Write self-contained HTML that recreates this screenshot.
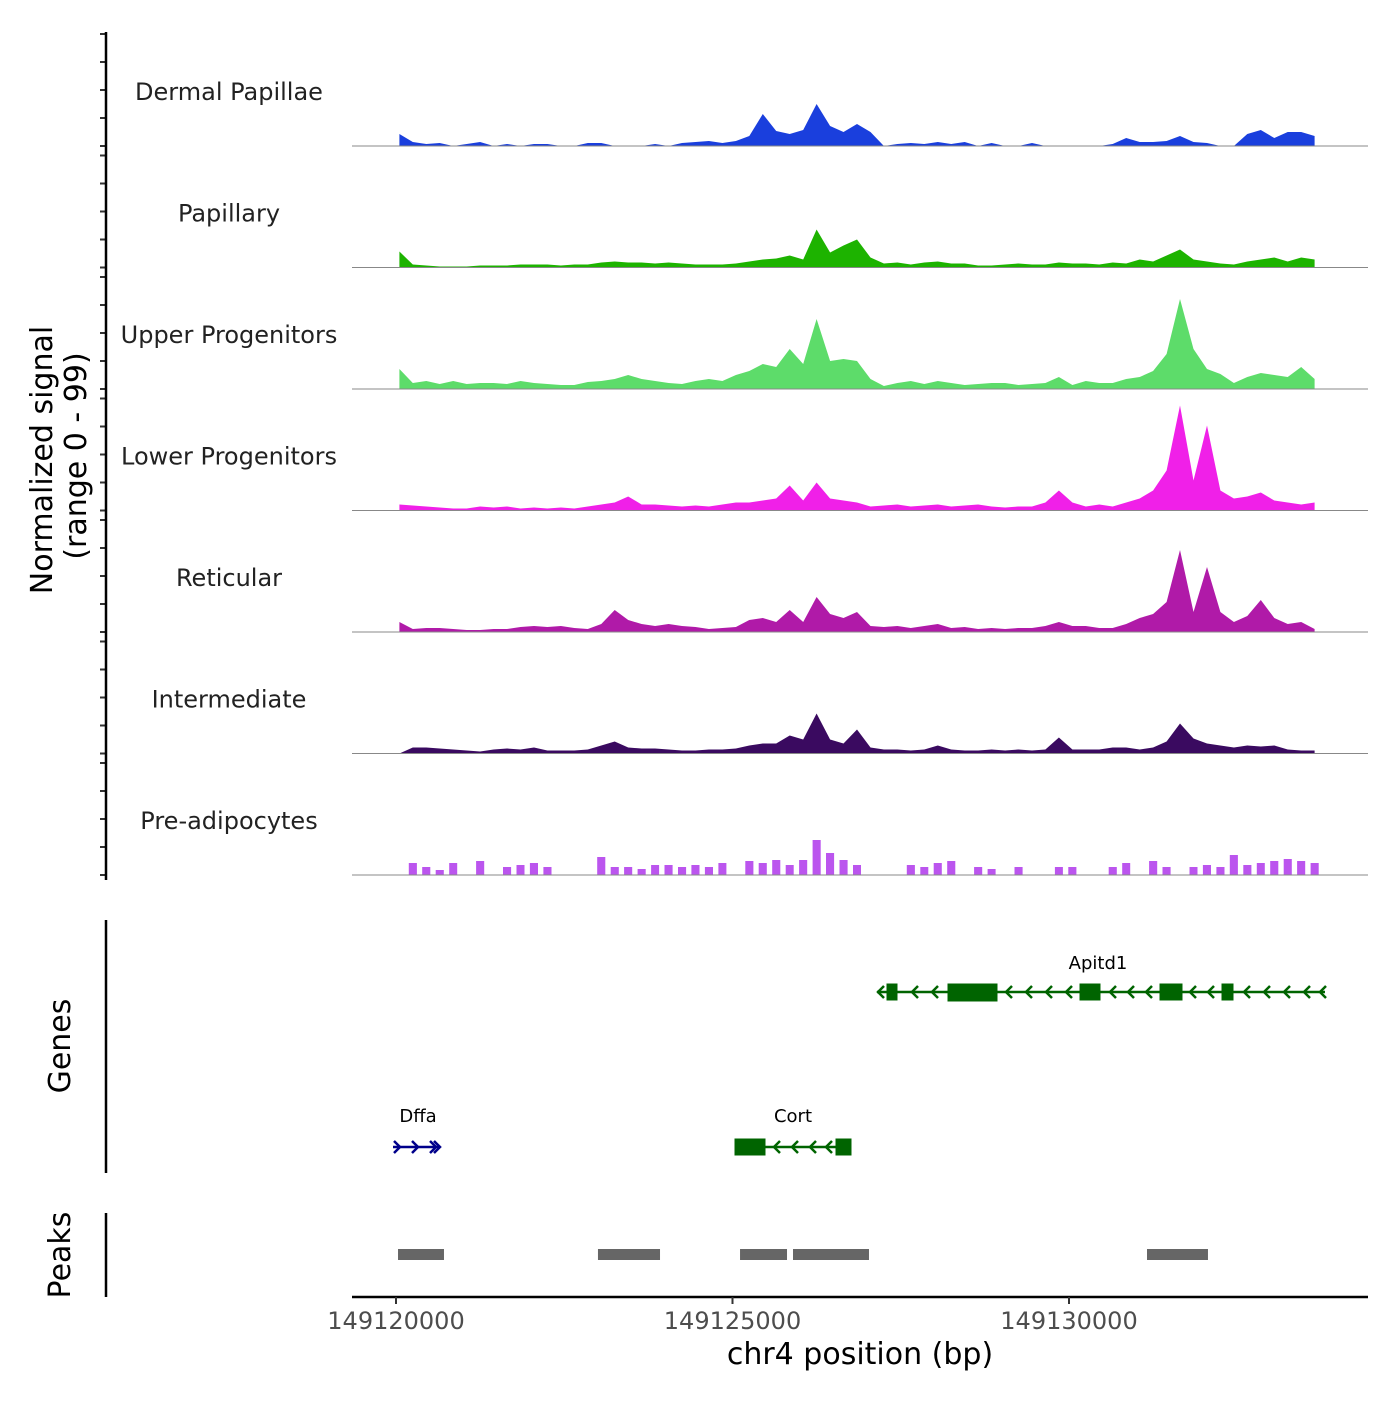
<!DOCTYPE html>
<html><head><meta charset="utf-8"><style>
body{margin:0;background:#fff}
svg text{font-family:"DejaVu Sans","Liberation Sans",sans-serif}
</style></head><body>
<svg id="chart" width="1400" height="1400" viewBox="0 0 1400 1400" xmlns="http://www.w3.org/2000/svg">
<g id="tracks"></g>
<g id="axes"></g>
</svg>
<script>
const trackNames = ["Dermal Papillae","Papillary","Upper Progenitors","Lower Progenitors","Reticular","Intermediate","Pre-adipocytes"];
const trackColors = ["#1a3fdd","#1db300","#5ddc6a","#f020e8","#b01aa8","#3a0a60","#bb55ee"];
const binStart = 149120050;
const binSize = 200;
const sigDermal = [12,4,2,3,0,2,4,0,2,0,2,2,0,0,3,3,0,0,0,2,0,3,4,5,3,5,10,32,15,12,16,42,20,14,22,14,0,2,3,2,4,2,4,0,3,0,0,3,0,0,0,0,0,2,8,4,4,5,10,4,3,0,0,12,16,8,14,14,10];
const sigPapillary = [16,3,2,1,1,1,2,2,2,3,3,3,2,3,3,5,6,5,5,4,5,4,3,3,3,4,6,8,9,12,8,38,15,22,28,10,4,5,3,5,6,4,4,2,2,3,4,3,3,5,4,4,3,5,4,8,6,12,18,8,6,4,3,6,8,10,6,10,8];
const sigUpper = [20,6,8,5,8,5,6,6,5,8,6,5,4,4,7,8,10,14,10,8,6,5,8,10,8,14,18,25,22,40,25,70,28,30,28,10,3,6,8,5,8,6,4,5,6,6,4,5,6,12,4,8,6,6,10,12,18,35,90,40,20,15,6,12,16,14,12,22,10];
const sigLower = [6,5,4,3,2,2,4,3,4,2,3,2,3,2,4,6,8,14,6,6,5,4,5,4,6,8,8,10,12,25,10,28,12,10,8,4,5,6,4,5,6,4,5,6,4,3,4,4,8,20,8,4,6,4,8,12,20,40,105,30,85,20,12,14,18,10,8,6,8];
const sigReticular = [10,3,4,4,3,2,2,3,3,5,6,5,6,4,3,8,22,12,8,6,8,6,5,3,4,5,12,14,10,22,10,35,18,14,20,6,5,6,4,6,8,4,5,3,4,3,4,4,6,10,6,6,4,4,8,14,18,30,82,20,65,20,10,16,32,14,8,10,3];
const sigIntermediate = [0,6,6,5,4,3,2,4,5,4,6,3,3,3,4,8,12,6,5,5,4,3,3,4,4,5,8,10,10,18,14,40,14,10,24,6,4,4,3,4,8,4,3,3,4,3,4,3,4,16,4,4,4,6,6,4,6,12,30,15,10,8,6,8,7,8,4,3,3];
const sigPreadipo = [0,12,8,5,12,0,14,0,8,10,12,8,0,0,0,18,8,8,6,10,10,8,10,8,12,0,14,12,15,10,15,35,22,15,10,0,0,0,10,8,12,14,0,8,6,0,8,0,0,8,8,0,0,8,12,0,14,8,0,8,10,8,20,10,12,14,16,14,12];
const signals = [sigDermal,sigPapillary,sigUpper,sigLower,sigReticular,sigIntermediate,sigPreadipo];
const peakStarts = [149120030,149123001,149125112,149125899,149131159];
const peakEnds = [149120713,149123923,149125810,149127028,149132065];
const xTicks = [149120000,149125000,149130000];

const NS="http://www.w3.org/2000/svg";
const X0=396, PXBP=336.5/5000;
function xs(bp){return X0+(bp-149120000)*PXBP;}
const bases=[146,267.5,389,510.5,632,753.5,875];
function ys(v,b){return b-v*1.0;}
function mk(tag,attrs,parent){const e=document.createElementNS(NS,tag);for(const k in attrs)e.setAttribute(k,attrs[k]);parent.appendChild(e);return e;}
const tg=document.getElementById('tracks'), ag=document.getElementById('axes');

signals.forEach((sig,t)=>{
  const b=bases[t];
  const step = (t===6);
  let d='M'+xs(binStart).toFixed(1)+','+b;
  sig.forEach((v,i)=>{
    if(step){
      const xa=xs(binStart+i*binSize-binSize*0.3), xb=xs(binStart+i*binSize+binSize*0.3);
      d+=' L'+xa.toFixed(1)+','+b+' L'+xa.toFixed(1)+','+ys(v,b).toFixed(1)+' L'+xb.toFixed(1)+','+ys(v,b).toFixed(1)+' L'+xb.toFixed(1)+','+b;
    } else {
      d+=' L'+xs(binStart+i*binSize).toFixed(1)+','+ys(v,b).toFixed(1);
    }
  });
  d+=' L'+xs(binStart+(sig.length-1)*binSize).toFixed(1)+','+b+' Z';
  const p=mk('path',{d:d,fill:trackColors[t]},tg);
  
  
  const l=mk('line',{x1:352,x2:1368,y1:b,y2:b,stroke:'#888','stroke-width':1},tg);
  
  
  const lab=mk('text',{x:229,y:b-46,'text-anchor':'middle','font-size':24,fill:'#222'},tg);
  lab.textContent=trackNames[t];
  
  
  for(let k=0;k<5;k++){
    const tk=mk('line',{x1:100,x2:106,y1:b-28*k,y2:b-28*k,stroke:'#333','stroke-width':2},ag);
    
    
  }
});
[[32,880],[920,1173],[1213,1297]].forEach(r=>{
  const l=mk('line',{x1:106,x2:106,y1:r[0],y2:r[1],stroke:'#000','stroke-width':2.5},ag);
  
  
});
peakStarts.forEach((s,i)=>{
  const r=mk('rect',{x:xs(s),y:1249,width:xs(peakEnds[i])-xs(s),height:11,fill:'#666'},tg);
  
  
});
const xl=mk('line',{x1:352,x2:1368,y1:1297,y2:1297,stroke:'#000','stroke-width':2.5},ag);


xTicks.forEach(v=>{
  const t=mk('line',{x1:xs(v),x2:xs(v),y1:1297,y2:1304,stroke:'#333','stroke-width':2},ag);
  
  
  const tx=mk('text',{x:xs(v),y:1329,'text-anchor':'middle','font-size':24,fill:'#4d4d4d'},ag);
  tx.textContent=v;
  
  
});
</script>
<svg style="position:absolute;left:0;top:0" width="1400" height="1400">
<text x="860" y="1364" text-anchor="middle" font-size="30" font-family="DejaVu Sans, Liberation Sans, sans-serif">chr4 position (bp)</text>
<text transform="translate(52,460) rotate(-90)" text-anchor="middle" font-size="30" font-family="DejaVu Sans, Liberation Sans, sans-serif">Normalized signal</text>
<text transform="translate(86,456) rotate(-90)" text-anchor="middle" font-size="30" font-family="DejaVu Sans, Liberation Sans, sans-serif">(range 0 - 99)</text>
<text transform="translate(70,1046) rotate(-90)" text-anchor="middle" font-size="30" font-family="DejaVu Sans, Liberation Sans, sans-serif">Genes</text>
<text transform="translate(70,1255) rotate(-90)" text-anchor="middle" font-size="30" font-family="DejaVu Sans, Liberation Sans, sans-serif">Peaks</text>
<g fill="#006400" stroke="#006400">
<line x1="877" x2="1325" y1="992" y2="992" stroke-width="2.5"/>
<rect x="887" y="984" width="10" height="16"/><rect x="948" y="984" width="49" height="17"/><rect x="1080" y="984" width="20" height="16"/><rect x="1160" y="984" width="22" height="16"/><rect x="1222" y="984" width="11" height="16"/>
<path fill="none" stroke-width="2.5" d="M884,986 l-6,6 6,6 M918,986 l-6,6 6,6 M938,986 l-6,6 6,6 M1012,986 l-6,6 6,6 M1032,986 l-6,6 6,6 M1052,986 l-6,6 6,6 M1072,986 l-6,6 6,6 M1116,986 l-6,6 6,6 M1134,986 l-6,6 6,6 M1152,986 l-6,6 6,6 M1196,986 l-6,6 6,6 M1214,986 l-6,6 6,6 M1250,986 l-6,6 6,6 M1270,986 l-6,6 6,6 M1290,986 l-6,6 6,6 M1310,986 l-6,6 6,6 M1326,986 l-6,6 6,6"/>
<text stroke="none" fill="#000" x="1098" y="969" text-anchor="middle" font-size="18" font-family="DejaVu Sans, sans-serif">Apitd1</text>
</g>
<g stroke="#00008b">
<line x1="393" x2="440" y1="1147" y2="1147" stroke-width="2.5"/>
<path fill="none" stroke-width="2.5" d="M394,1141 l6,6 -6,6 M412,1141 l6,6 -6,6 M430,1141 l6,6 -6,6 M434,1141 l6,6 -6,6"/>
<text stroke="none" fill="#000" x="418" y="1122" text-anchor="middle" font-size="18" font-family="DejaVu Sans, sans-serif">Dffa</text>
</g>
<g fill="#006400" stroke="#006400">
<line x1="735" x2="851" y1="1147" y2="1147" stroke-width="2.5"/>
<rect x="735" y="1139" width="30" height="16"/><rect x="836" y="1139" width="15" height="16"/>
<path fill="none" stroke-width="2.5" d="M780,1141 l-6,6 6,6 M798,1141 l-6,6 6,6 M816,1141 l-6,6 6,6 M832,1141 l-6,6 6,6"/>
<text stroke="none" fill="#000" x="793" y="1122" text-anchor="middle" font-size="18" font-family="DejaVu Sans, sans-serif">Cort</text>
</g>
</svg>
</body></html>
